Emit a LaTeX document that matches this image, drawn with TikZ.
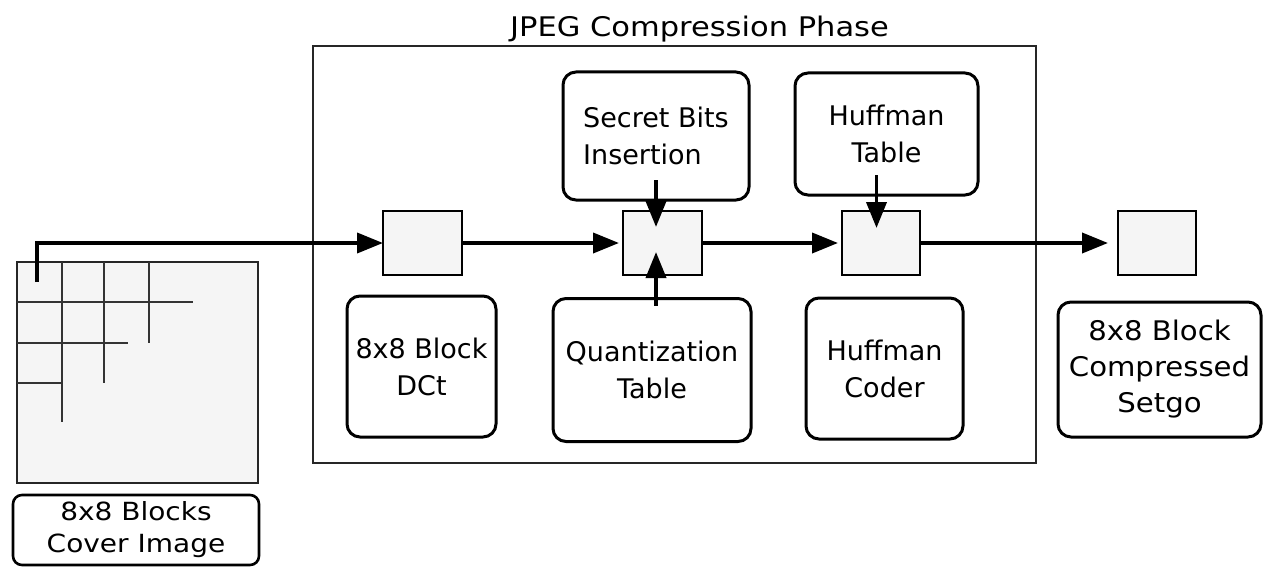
\documentclass[tikz,border=0pt]{standalone}
\usepackage{fontspec}
\setmainfont{DejaVu Sans}
\usetikzlibrary{arrows.meta,calc}
\definecolor{boxfill}{HTML}{F5F5F5}
\definecolor{gridline}{HTML}{333333}
\tikzset{
  txt/.style={font=\fontsize{27}{37}\selectfont},
  rbox/.style={draw=black, line width=3pt, rounded corners=13pt, fill=white, inner sep=0pt, outer sep=0pt, align=center, txt},
  sbox/.style={draw=black, line width=1.8pt, fill=boxfill, inner sep=0pt, outer sep=0pt},
  frame/.style={draw=black!85, line width=1.5pt, inner sep=0pt},
  arr/.style={line width=3.8pt, -{Triangle[length=26pt,width=20pt]}},
  gl/.style={draw=gridline, line width=1.6pt},
}
\begin{document}
\begin{tikzpicture}[x=1pt,y=-1pt]
\useasboundingbox (0,0) rectangle (1265,567);
% frame and title
\node[frame, minimum width=723pt, minimum height=417pt] (frame) at (674.5,254.5) {};
\node[txt, anchor=base, inner sep=0pt] (title) at (699.5,37) {\scalebox{1.13}[1]{JPEG Compression Phase}};
% cover image
\node[draw=black!85, line width=1.5pt, fill=boxfill, minimum width=241pt, minimum height=221pt, inner sep=0pt] (img) at (137.5,372.5) {};
\draw[gl] (62,262) -- (62,422);
\draw[gl] (104,262) -- (104,383);
\draw[gl] (149,262) -- (149,343);
\draw[gl] (17,302) -- (193,302);
\draw[gl] (17,343) -- (128,343);
\draw[gl] (17,383) -- (62,383);
\coordinate (start) at (37,282);
\node[rbox, line width=2.6pt, rounded corners=9pt, minimum width=246pt, minimum height=70pt, font=\fontsize{25}{32}\selectfont] (cover) at (136,530) {\scalebox{1.12}[1]{8x8 Blocks}\\\scalebox{1.12}[1]{Cover Image}};
% small boxes
\node[sbox, minimum width=79pt, minimum height=64pt] (b1) at (422.5,243) {};
\node[sbox, minimum width=79pt, minimum height=64pt] (b2) at (662.5,243) {};
\node[sbox, minimum width=78pt, minimum height=64pt] (b3) at (881,243) {};
\node[sbox, minimum width=78pt, minimum height=64pt] (b4) at (1157,243) {};
% rounded boxes
\node[rbox, minimum width=186pt, minimum height=128pt, align=left] (secret) at (656,136) {Secret Bits\\Insertion};
\node[rbox, minimum width=183pt, minimum height=122pt] (htable) at (886.5,134) {Huffman\\Table};
\node[rbox, minimum width=149pt, minimum height=141pt] (dct) at (421.5,366.5) {8x8 Block\\DCt};
\node[rbox, minimum width=198pt, minimum height=143pt] (quant) at (652,370) {Quantization\\Table};
\node[rbox, minimum width=157pt, minimum height=141pt] (hcoder) at (884.5,368.5) {Huffman\\Coder};
\node[rbox, minimum width=203pt, minimum height=135pt, font=\fontsize{27}{36}\selectfont] (out) at (1159.5,369.5) {\scalebox{1.08}[1]{8x8 Block}\\\scalebox{1.08}[1]{Compressed}\\\scalebox{1.08}[1]{Setgo}};
% connectors
\draw[arr] (start) |- (b1.west);
\draw[arr] (b1.east) -- ([xshift=-4pt]b2.west);
\draw[arr] (b2.east) -- ([xshift=-4pt]b3.west);
\draw[arr] (b3.east) -- ([xshift=-10pt]b4.west);
\draw[arr] ([yshift=20pt]secret.south) -- ([yshift=-16pt]secret.south |- b2.north);
\draw[arr] ([yshift=-7pt]secret.south |- quant.north) -- ([yshift=23pt]secret.south |- b2.south);
\draw[arr] ([xshift=-10pt,yshift=20pt]htable.south) -- ([xshift=-10pt,yshift=-17pt]htable.south |- b3.north);
\end{tikzpicture}
\end{document}
